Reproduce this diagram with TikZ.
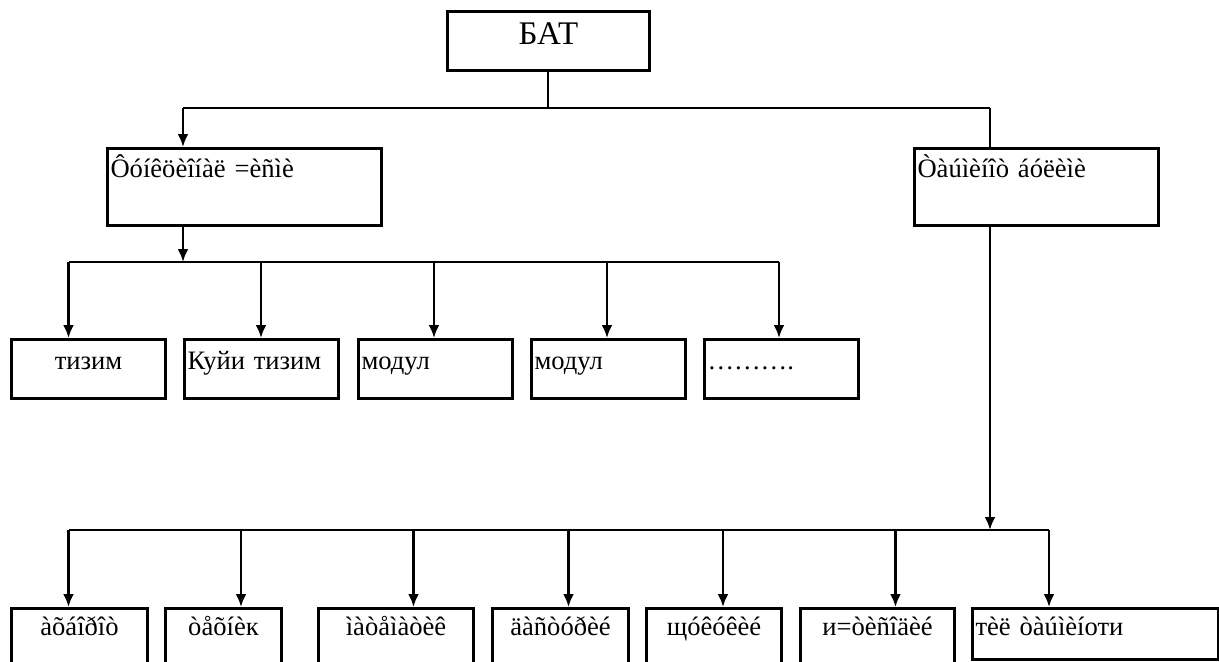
\documentclass[tikz,border=0pt]{standalone}
\usepackage{fontspec}
\setmainfont{Liberation Serif}
\usetikzlibrary{arrows.meta}

\tikzset{
  blok/.style={draw, line width=1.5pt, anchor=north west, inner xsep=1.5pt, inner ysep=0pt, font=\fontsize{13.3}{16}\selectfont},
  bosh/.style={blok, minimum width=101pt, text height=16.5pt, text depth=13pt, font=\fontsize{16.5}{19}\selectfont},
  bulim/.style={blok, align=left, text height=14.5pt, text depth=24pt},
  modul/.style={blok, text width=74pt, text height=15pt, text depth=14.5pt},
  quyi/.style={blok, align=center, text height=13.5pt, text depth=25pt},
  liniya/.style={line width=1.4pt},
  strelka/.style={line width=1.4pt, -{Latex[length=6.5pt,width=5.5pt]}}
}

\begin{document}
\begin{tikzpicture}[x=0.5pt, y=-0.5pt]
\clip (0,0) rectangle (1219,661);

\node[bosh] (bat) at (446,10) {БАТ};

\node[bulim, text width=134pt] (func) at (106,147) {Ôóíêöèîíàë =èñìè};
\node[bulim, text width=119pt] (tam) at (913,147) {Òàúìèíîò áóëèìè};

\node[modul, align=center] (m1) at (10,338) {тизим};
\node[modul, align=left] (m2) at (183,338) {Куйи тизим};
\node[modul, align=left] (m3) at (357,338) {модул};
\node[modul, align=left] (m4) at (530,338) {модул};
\node[modul, align=left] (m5) at (703,338) {……….};

\node[quyi, text width=65pt] (q1) at (10,607) {àõáîðîò};
\node[quyi, text width=55pt] (q2) at (164,607) {òåõíèк};
\node[quyi, text width=74.5pt] (q3) at (317,607) {ìàòåìàòèê};
\node[quyi, text width=65pt] (q4) at (491,607) {äàñòóðèé};
\node[quyi, text width=64.5pt] (q5) at (645,607) {щóêóêèé};
\node[quyi, text width=74pt] (q6) at (799,607) {и=òèñîäèé};
\node[quyi, align=left, text width=120pt, text depth=12pt] (q7) at (971,607) {тèë òàúìèíоти};

\coordinate (t0) at (548,108);
\coordinate (tl) at (183,108);
\coordinate (tr) at (990,108);
\draw[liniya] (bat.south -| t0) -- (t0);
\draw[liniya] (tl) -- (tr);
\draw[strelka] (tl) -- (tl |- func.north);
\draw[liniya] (tr) -- (tr |- tam.north);

\coordinate (ma) at (183,262);
\coordinate (mb) at (68.5,262);
\coordinate (mc) at (779,262);
\draw[strelka] (ma |- func.south) -- (ma);
\draw[liniya] (mb) -- (mc);
\foreach \i/\x in {1/68.5, 2/261, 3/434, 4/607, 5/779} {
  \coordinate (pm\i) at (\x,262);
  \draw[strelka] (pm\i) -- (pm\i |- m\i.north);
}

\coordinate (qa) at (990,530);
\coordinate (qb) at (68.5,530);
\coordinate (qc) at (1049,530);
\draw[strelka] (qa |- tam.south) -- (qa);
\draw[liniya] (qb) -- (qc);
\foreach \i/\x in {1/68.5, 2/241, 3/413.5, 4/568.5, 5/723, 6/895.5, 7/1049} {
  \coordinate (pq\i) at (\x,530);
  \draw[strelka] (pq\i) -- (pq\i |- q\i.north);
}

\end{tikzpicture}
\end{document}
